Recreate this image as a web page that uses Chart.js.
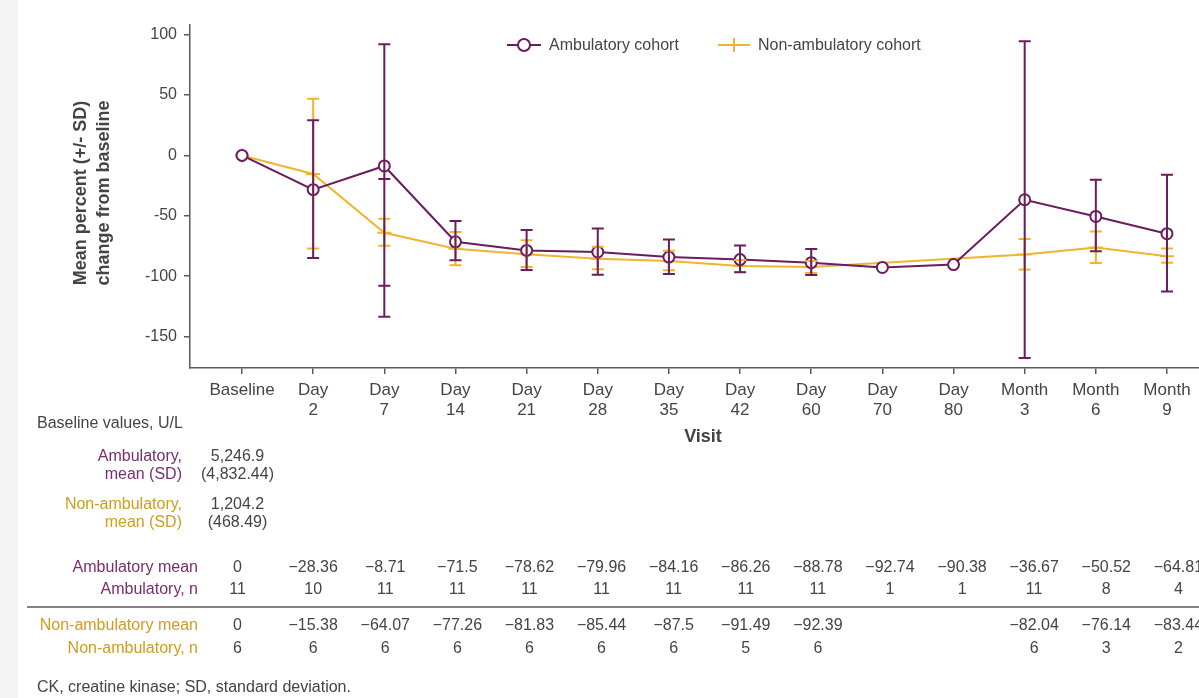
<!DOCTYPE html>
<html>
<head>
<meta charset="utf-8">
<script src="https://cdn.jsdelivr.net/npm/chart.js@4.4.1/dist/chart.umd.min.js"></script>
<style>
  html, body { margin: 0; padding: 0; background: #fff; }
  body { width: 1199px; height: 698px; overflow: hidden; position: relative; }
  #strip { position: absolute; left: 0; top: 0; width: 18px; height: 698px; background: #f3f3f3; }
  #ckChart { position: absolute; left: 0; top: 0; }
</style>
</head>
<body>
<div id="strip"></div>
<canvas id="ckChart" width="1208" height="698"></canvas>
<script>
const visitLabels = ["Baseline", ["Day", "2"], ["Day", "7"], ["Day", "14"], ["Day", "21"], ["Day", "28"], ["Day", "35"],
  ["Day", "42"], ["Day", "60"], ["Day", "70"], ["Day", "80"], ["Month", "3"], ["Month", "6"], ["Month", "9"]];
const yTicks = [100, 50, 0, -50, -100, -150];

const ambMean = [0, -28.36, -8.71, -71.5, -78.62, -79.96, -84.16, -86.26, -88.78, -92.74, -90.38, -36.67, -50.52, -64.81];
const ambHigh = [null, 29.2, 92, -54.2, -61.7, -60.5, -69.6, -74.6, -77.4, null, null, 94.5, -20.2, -16];
const ambLow = [null, -84.9, -133.5, -86.8, -94.8, -98.7, -98.1, -96.7, -99, null, null, -167.7, -79.4, -112.6];
const ambInnerCaps = [null, null, [-19.6, -108], null, null, null, null, null, null, null, null, null, null, null];
const ambN = [11, 10, 11, 11, 11, 11, 11, 11, 11, 1, 1, 11, 8, 4];

const nonMean = [0, -15.38, -64.07, -77.26, -81.83, -85.44, -87.5, -91.49, -92.39, null, null, -82.04, -76.14, -83.44];
const nonHigh = [null, 47, -52.5, -63.3, -70.2, -75.7, -79, -86.5, -87.4, null, null, -69.2, -63, -77];
const nonLow = [null, -77, -74.7, -90.9, -92.3, -94.2, -95, -96.5, -97.4, null, null, -94.4, -89, -88.8];
const nonN = [6, 6, 6, 6, 6, 6, 6, 5, 6, null, null, 6, 3, 2];

const ambBaseline = ["5,246.9", "(4,832.44)"];
const nonBaseline = ["1,204.2", "(468.49)"];

const purple = "#6b1c5e";
const gold = "#f1b42f";
const purpleText = "#7b2c70";
const goldText = "#d19c1f";
const textColor = "#444444";
const axisColor = "#5a5a5a";
const FONT = '"Liberation Sans", Arial, sans-serif';

function fmt(v) {
  if (v === null) return "";
  if (v === 0) return "0";
  return (v < 0 ? "\u2212" : "") + Math.abs(v);
}

// table columns sit a little wider apart than the axis ticks
function colX(x, i) {
  if (i === 0) return x.getPixelForValue(0) - 4.5;
  return x.getPixelForValue(i) + (i - 1) * 0.95;
}

function drawBars(chart, lows, highs, color, inner) {
  const ctx = chart.ctx;
  const x = chart.scales.x;
  const y = chart.scales.y;
  ctx.save();
  ctx.strokeStyle = color;
  ctx.lineWidth = 2;
  for (let i = 0; i < lows.length; i++) {
    if (lows[i] === null) continue;
    const px = x.getPixelForValue(i);
    const yl = y.getPixelForValue(lows[i]);
    const yh = y.getPixelForValue(highs[i]);
    ctx.beginPath();
    ctx.moveTo(px, yl); ctx.lineTo(px, yh);
    const caps = [yl, yh];
    if (inner && inner[i]) inner[i].forEach(v => caps.push(y.getPixelForValue(v)));
    caps.forEach(c => { ctx.moveTo(px - 6, c); ctx.lineTo(px + 6, c); });
    ctx.stroke();
  }
  ctx.restore();
}

const errorBars = {
  id: "errorBars",
  afterDatasetsDraw(chart) {
    drawBars(chart, nonLow, nonHigh, gold, null);
    drawBars(chart, ambLow, ambHigh, purple, ambInnerCaps);
  }
};

const extras = {
  id: "extras",
  afterDraw(chart) {
    const ctx = chart.ctx;
    const x = chart.scales.x;
    ctx.save();
    ctx.textBaseline = "middle";

    // legend
    ctx.lineWidth = 2;
    ctx.strokeStyle = purple;
    ctx.beginPath(); ctx.moveTo(507, 45); ctx.lineTo(541, 45); ctx.stroke();
    ctx.fillStyle = "#fff";
    ctx.beginPath(); ctx.arc(524, 45, 6, 0, Math.PI * 2); ctx.fill(); ctx.stroke();
    ctx.strokeStyle = gold;
    ctx.beginPath(); ctx.moveTo(718, 45); ctx.lineTo(750, 45); ctx.moveTo(734, 38); ctx.lineTo(734, 52); ctx.stroke();
    ctx.fillStyle = textColor;
    ctx.font = "16px " + FONT;
    ctx.textAlign = "left";
    ctx.fillText("Ambulatory cohort", 549, 46);
    ctx.fillText("Non-ambulatory cohort", 758, 46);

    // axis titles
    ctx.font = "bold 18px " + FONT;
    ctx.textAlign = "center";
    ctx.fillText("Visit", 703, 437);
    ctx.save();
    ctx.translate(81, 193);
    ctx.rotate(-Math.PI / 2);
    ctx.fillText("Mean percent (+/- SD)", 0, 0);
    ctx.fillText("change from baseline", 0, 23);
    ctx.restore();

    // baseline block
    ctx.font = "16px " + FONT;
    ctx.textAlign = "left";
    ctx.fillStyle = textColor;
    ctx.fillText("Baseline values, U/L", 37, 424);
    ctx.textAlign = "right";
    ctx.fillStyle = purpleText;
    ctx.fillText("Ambulatory,", 182, 457);
    ctx.fillText("mean (SD)", 182, 475);
    ctx.fillStyle = goldText;
    ctx.fillText("Non-ambulatory,", 182, 505);
    ctx.fillText("mean (SD)", 182, 523);
    const c0 = colX(x, 0);
    ctx.textAlign = "center";
    ctx.fillStyle = textColor;
    ctx.fillText(ambBaseline[0], c0, 457);
    ctx.fillText(ambBaseline[1], c0, 475);
    ctx.fillText(nonBaseline[0], c0, 505);
    ctx.fillText(nonBaseline[1], c0, 523);

    // table rows
    ctx.textAlign = "right";
    ctx.fillStyle = purpleText;
    ctx.fillText("Ambulatory mean", 198, 568);
    ctx.fillText("Ambulatory, n", 198, 590);
    ctx.fillStyle = goldText;
    ctx.fillText("Non-ambulatory mean", 198, 626);
    ctx.fillText("Non-ambulatory, n", 198, 649);
    ctx.textAlign = "center";
    ctx.fillStyle = textColor;
    for (let i = 0; i < visitLabels.length; i++) {
      const cx = colX(x, i);
      ctx.fillText(fmt(ambMean[i]), cx, 568);
      ctx.fillText(ambN[i] === null ? "" : String(ambN[i]), cx, 590);
      ctx.fillText(fmt(nonMean[i]), cx, 626);
      ctx.fillText(nonN[i] === null ? "" : String(nonN[i]), cx, 649);
    }
    ctx.strokeStyle = axisColor;
    ctx.lineWidth = 1.5;
    ctx.beginPath(); ctx.moveTo(27, 607); ctx.lineTo(1208, 607); ctx.stroke();

    ctx.textAlign = "left";
    ctx.fillText("CK, creatine kinase; SD, standard deviation.", 37, 688);
    ctx.restore();
  }
};

const ctx = document.getElementById("ckChart").getContext("2d");

let ckChart = new Chart(ctx, {
  type: "line",
  data: {
    datasets: [
      {
        label: "Ambulatory cohort",
        data: ambMean.map((v, i) => ({ x: i, y: v })),
        borderColor: purple,
        borderWidth: 2,
        pointStyle: "circle",
        pointRadius: 5.5,
        pointBorderWidth: 2,
        pointBorderColor: purple,
        pointBackgroundColor: "#ffffff",
        tension: 0,
      },
      {
        label: "Non-ambulatory cohort",
        data: nonMean.map((v, i) => ({ x: i, y: v })),
        borderColor: gold,
        borderWidth: 2,
        pointStyle: "cross",
        pointRadius: 7,
        pointBorderWidth: 2,
        pointBorderColor: gold,
        spanGaps: true,
        tension: 0,
      },
    ],
  },
  options: {
    responsive: false,
    animation: false,
    layout: { padding: { left: 130, top: 25, right: 0, bottom: 268 } },
    plugins: { legend: { display: false }, tooltip: { enabled: false } },
    scales: {
      x: {
        type: "linear",
        min: -0.731,
        max: 13.45,
        afterBuildTicks: (s) => { s.ticks = visitLabels.map((_, i) => ({ value: i })); },
        afterFit: (s) => { s.height = 62; },
        ticks: {
          autoSkip: false,
          maxRotation: 0,
          padding: 6,
          color: textColor,
          font: { family: FONT, size: 17, lineHeight: 1.18 },
          callback: (v) => visitLabels[v],
        },
        grid: { drawOnChartArea: false, tickLength: 6, color: axisColor, lineWidth: 1.5 },
        border: { color: axisColor, width: 1.5 },
      },
      y: {
        min: -176,
        max: 108,
        afterBuildTicks: (s) => { s.ticks = yTicks.map((v) => ({ value: v })); },
        afterFit: (s) => { s.width = 60; },
        ticks: {
          padding: 7,
          color: textColor,
          font: { family: FONT, size: 16 },
          callback: (v) => String(v),
        },
        grid: { drawOnChartArea: false, tickLength: 6, color: axisColor, lineWidth: 1.5 },
        border: { color: axisColor, width: 1.5 },
      },
    },
  },
  plugins: [errorBars, extras],
});
</script>
</body>
</html>
